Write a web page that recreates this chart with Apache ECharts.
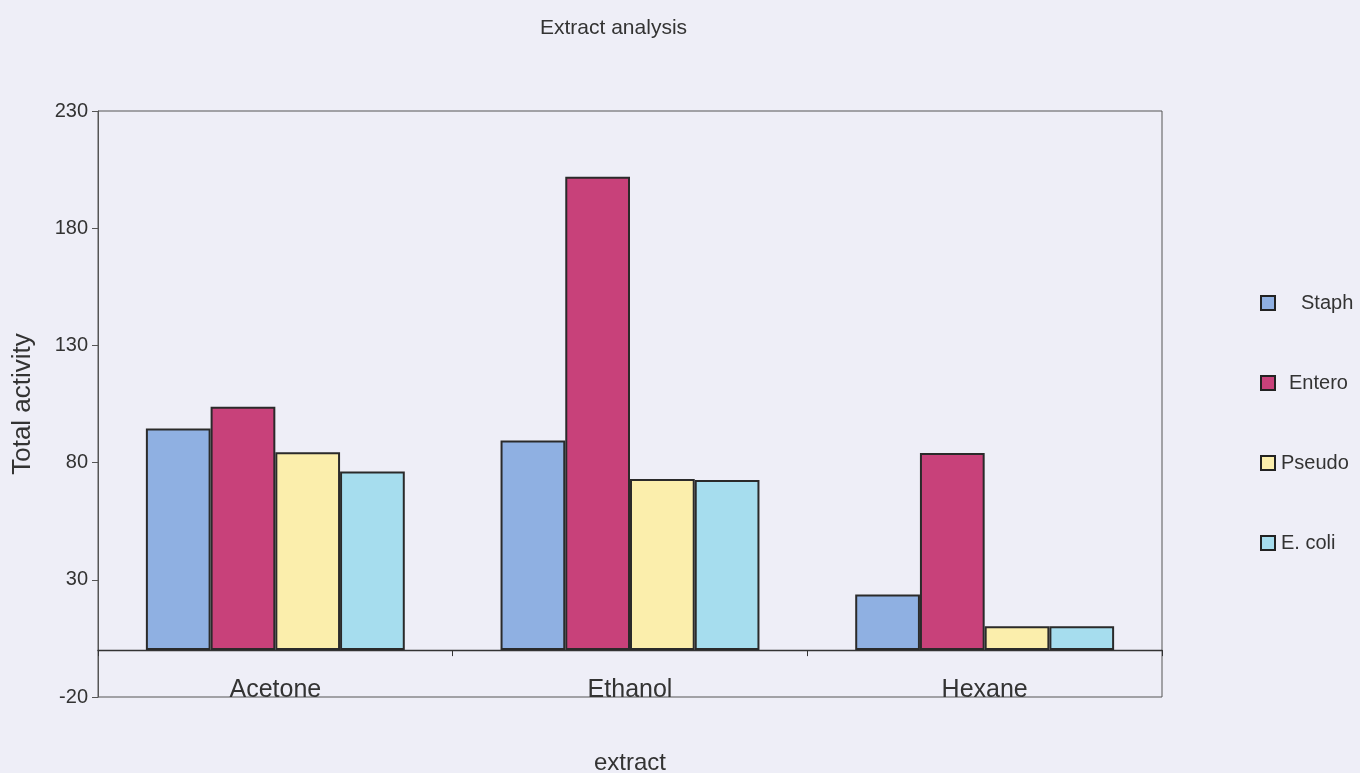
<!DOCTYPE html>
<html>
<head>
<meta charset="utf-8">
<script src="https://cdn.jsdelivr.net/npm/echarts@6/dist/echarts.min.js"></script>
<style>
  html, body { margin: 0; padding: 0; background: #eeeef7; }
  #chart { width: 1360px; height: 773px; }
</style>
</head>
<body>
<div id="chart"></div>
<script>
// Extract analysis: total activity of each solvent extract against four organisms
const categories = ['Acetone', 'Ethanol', 'Hexane'];
const staph  = [94.5, 89.4, 23.7];
const entero = [103.8, 201.9, 84.1];
const pseudo = [84.4, 73.0, 10.2];
const ecoli  = [76.2, 72.6, 10.2];
const seriesNames = ['Staph', 'Entero', 'Pseudo', 'E. coli'];
const yMin = -20, yMax = 230, yStep = 50;

const FONT = '"Liberation Sans", Arial, sans-serif';
const colors = ['#8fb0e2', '#c8417a', '#fbeeac', '#a6ddee'];
const seriesData = [staph, entero, pseudo, ecoli];

const chart = echarts.init(document.getElementById('chart'), null, { renderer: 'canvas' });

// one legend block per organism, stacked down the right side
const legendTops = [293, 373, 453, 533];
const legendTextPad = [21, 9, 1, 1];
const legends = seriesNames.map((name, i) => ({
  data: [name],
  orient: 'vertical',
  left: 1260,
  top: legendTops[i],
  padding: 0,
  itemWidth: 14,
  itemHeight: 14,
  icon: 'rect',
  selectedMode: false,
  itemStyle: { borderColor: '#222', borderWidth: 2 },
  textStyle: { fontFamily: FONT, fontSize: 20, color: '#333', padding: [0, 0, 0, legendTextPad[i]] }
}));

chart.setOption({
  backgroundColor: '#eeeef7',
  animation: false,
  title: {
    text: 'Extract analysis',
    left: 535,
    top: 13,
    textStyle: { fontFamily: FONT, fontSize: 21, fontWeight: 'normal', color: '#333' }
  },
  legend: legends,
  grid: {
    left: 98, right: 198, top: 111, bottom: 76,
    outerBoundsMode: 'none',
    containLabel: false,
    show: true, borderColor: '#555', borderWidth: 1, backgroundColor: 'transparent'
  },
  xAxis: [
    {
      // axis through zero with boundary ticks
      type: 'category',
      data: categories,
      axisLine: { onZero: true, lineStyle: { color: '#333', width: 1.3 } },
      axisTick: { show: true, length: 6, lineStyle: { color: '#333' } },
      axisLabel: { show: false }
    },
    {
      // category names along the bottom of the plot
      type: 'category',
      data: categories,
      position: 'bottom',
      axisLine: { show: false, onZero: false },
      axisTick: { show: false },
      axisLabel: { margin: -19, fontFamily: FONT, fontSize: 25, color: '#333' },
      name: 'extract',
      nameLocation: 'middle',
      nameGap: 54,
      nameTextStyle: { fontFamily: FONT, fontSize: 24, color: '#333' }
    }
  ],
  yAxis: {
    type: 'value',
    min: yMin,
    max: yMax,
    interval: yStep,
    axisLine: { show: true, lineStyle: { color: '#555' } },
    axisTick: { show: true, length: 6, lineStyle: { color: '#555' } },
    axisLabel: { margin: 10, fontFamily: FONT, fontSize: 20, color: '#333' },
    splitLine: { show: false },
    name: 'Total activity',
    nameLocation: 'middle',
    nameGap: 62,
    nameTextStyle: { fontFamily: FONT, fontSize: 26, color: '#333' }
  },
  series: seriesNames.map((name, i) => ({
    name: name,
    type: 'bar',
    xAxisIndex: 0,
    data: seriesData[i],
    barGap: '0%',
    barCategoryGap: '27%',
    itemStyle: { color: colors[i], borderColor: '#2a2a2a', borderWidth: 2 }
  }))
});
</script>
</body>
</html>
